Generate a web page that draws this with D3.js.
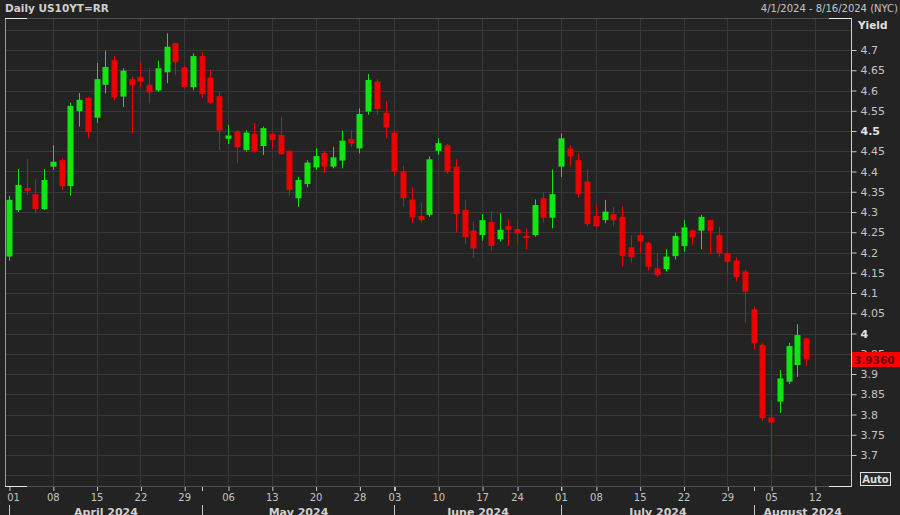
<!DOCTYPE html>
<html><head><meta charset="utf-8">
<script src="https://cdn.jsdelivr.net/npm/d3@7"></script>
<style>
body{margin:0;background:#232323;}
svg{display:block;font-family:"DejaVu Sans",sans-serif;}
</style>
</head><body>
<svg id="chart" width="900" height="515"></svg>
<script>
// ---------- DATA ----------
const dates = ["04-01","04-02","04-03","04-04","04-05","04-08","04-09","04-10","04-11","04-12",
"04-15","04-16","04-17","04-18","04-19","04-22","04-23","04-24","04-25","04-26",
"04-29","04-30","05-01","05-02","05-03","05-06","05-07","05-08","05-09","05-10",
"05-13","05-14","05-15","05-16","05-17","05-20","05-21","05-22","05-23","05-24",
"05-28","05-29","05-30","05-31","06-03","06-04","06-05","06-06","06-07","06-10",
"06-11","06-12","06-13","06-14","06-17","06-18","06-20","06-21","06-24","06-25",
"06-26","06-27","06-28","07-01","07-02","07-03","07-05","07-08","07-09","07-10",
"07-11","07-12","07-15","07-16","07-17","07-18","07-19","07-22","07-23","07-24",
"07-25","07-26","07-29","07-30","07-31","08-01","08-02","08-05","08-06","08-07",
"08-08","08-09"];
const futureDates = ["08-12","08-13","08-14","08-15","08-16"];

const openV = [4.190,4.305,4.359,4.344,4.307,4.412,4.428,4.364,4.549,4.582,
4.533,4.614,4.675,4.585,4.628,4.634,4.614,4.600,4.645,4.717,
4.657,4.608,4.685,4.632,4.586,4.481,4.498,4.453,4.493,4.463,
4.493,4.490,4.451,4.334,4.369,4.410,4.446,4.412,4.427,4.480,
4.457,4.548,4.622,4.545,4.496,4.400,4.331,4.290,4.293,4.451,
4.465,4.412,4.305,4.254,4.243,4.275,4.233,4.265,4.258,4.241,
4.243,4.334,4.286,4.412,4.457,4.428,4.375,4.290,4.280,4.295,
4.288,4.213,4.243,4.224,4.161,4.159,4.191,4.216,4.254,4.254,
4.280,4.243,4.198,4.180,4.153,4.060,3.972,3.793,3.832,3.881,
3.922,3.988];
const highV = [4.340,4.406,4.431,4.381,4.406,4.465,4.433,4.570,4.594,4.585,
4.668,4.698,4.685,4.655,4.634,4.671,4.655,4.674,4.741,4.718,
4.660,4.692,4.694,4.652,4.597,4.515,4.502,4.502,4.520,4.511,
4.496,4.535,4.453,4.387,4.428,4.457,4.451,4.461,4.501,4.502,
4.556,4.641,4.628,4.575,4.502,4.414,4.361,4.323,4.437,4.482,
4.468,4.430,4.330,4.276,4.295,4.303,4.297,4.282,4.279,4.260,
4.331,4.348,4.405,4.494,4.465,4.446,4.405,4.317,4.330,4.312,
4.315,4.243,4.251,4.227,4.198,4.208,4.249,4.280,4.257,4.293,
4.282,4.264,4.202,4.188,4.157,4.066,3.976,3.834,3.910,3.977,
4.023,3.991];
const lowV = [4.180,4.300,4.342,4.298,4.305,4.404,4.354,4.340,4.511,4.482,
4.520,4.593,4.575,4.559,4.494,4.609,4.568,4.597,4.618,4.638,
4.605,4.601,4.581,4.567,4.453,4.468,4.420,4.449,4.446,4.441,
4.457,4.441,4.340,4.313,4.361,4.404,4.396,4.408,4.408,4.461,
4.445,4.540,4.540,4.482,4.387,4.313,4.272,4.274,4.288,4.441,
4.394,4.249,4.221,4.188,4.229,4.204,4.227,4.216,4.224,4.208,
4.239,4.274,4.260,4.386,4.412,4.336,4.265,4.263,4.272,4.264,
4.165,4.175,4.198,4.155,4.140,4.153,4.183,4.202,4.219,4.208,
4.196,4.190,4.150,4.128,4.027,3.961,3.785,3.663,3.804,3.875,
3.893,3.920];
const closeV = [4.330,4.367,4.352,4.307,4.379,4.424,4.364,4.562,4.577,4.498,
4.628,4.658,4.583,4.649,4.614,4.622,4.595,4.655,4.708,4.670,
4.609,4.685,4.591,4.570,4.501,4.489,4.460,4.496,4.449,4.507,
4.478,4.443,4.354,4.379,4.422,4.438,4.412,4.435,4.476,4.470,
4.542,4.626,4.554,4.509,4.400,4.334,4.287,4.280,4.430,4.470,
4.400,4.295,4.238,4.210,4.280,4.216,4.256,4.256,4.247,4.238,
4.317,4.286,4.344,4.482,4.437,4.344,4.270,4.265,4.301,4.279,
4.191,4.188,4.227,4.165,4.144,4.190,4.241,4.262,4.238,4.288,
4.254,4.198,4.177,4.139,4.103,3.976,3.791,3.780,3.889,3.969,
3.996,3.936];

const yTickValues = [3.7,3.75,3.8,3.85,3.9,3.95,4,4.05,4.1,4.15,4.2,4.25,4.3,4.35,4.4,4.45,4.5,4.55,4.6,4.65,4.7];
const yTickLabels = ["3.7","3.75","3.8","3.85","3.9","3.95","4","4.05","4.1","4.15","4.2","4.25","4.3","4.35","4.4","4.45","4.5","4.55","4.6","4.65","4.7"];
const yBoldTicks = [4, 4.5];
const yGridExtra = [3.65, 4.75];

const weekTicks = ["04-01","04-08","04-15","04-22","04-29","05-06","05-13","05-20","05-28","06-03","06-10","06-17","06-24","07-01","07-08","07-15","07-22","07-29","08-05","08-12"];
const weekLabels = ["01","08","15","22","29","06","13","20","28","03","10","17","24","01","08","15","22","29","05","12"];
const monthStarts = ["04-01","05-01","06-03","07-01","08-01"];
const monthLabels = ["April 2024","May 2024","June 2024","July 2024","August 2024"];

const titleText = "Daily US10YT=RR";
const rangeText = "4/1/2024 - 8/16/2024 (NYC)";
const lastPrice = 3.936;

// ---------- LAYOUT ----------
const W = 900, H = 515;
const plot = {left: 5, top: 18, right: 851, bottom: 486};
const C = {bg:"#232323", grid:"#383838", text:"#c4c4c4", up:"#12e612", down:"#ee0000"};

const svg = d3.select("#chart");
svg.append("rect").attr("width", W).attr("height", H).attr("fill", C.bg);

const allDates = dates.concat(futureDates);
const x = d3.scalePoint().domain(allDates).range([9, 9 + 8.76 * (allDates.length - 1)]);
const y = d3.scaleLinear().domain([3.7, 4.7]).range([455, 50]);
const yFull = y.copy().domain([y.invert(plot.bottom), y.invert(plot.top)]).range([plot.bottom, plot.top]);

// grid
const g = svg.append("g");
const gridVals = yGridExtra.concat(yTickValues);
g.selectAll("line.h").data(gridVals).join("line")
  .attr("x1", plot.left).attr("x2", plot.right)
  .attr("y1", d => Math.round(y(d)) + 0.5).attr("y2", d => Math.round(y(d)) + 0.5)
  .attr("stroke", C.grid).attr("stroke-width", 1);
g.selectAll("line.v").data(weekTicks.slice(1)).join("line")
  .attr("x1", d => Math.round(x(d)) + 0.5).attr("x2", d => Math.round(x(d)) + 0.5)
  .attr("y1", plot.top).attr("y2", plot.bottom)
  .attr("stroke", C.grid).attr("stroke-width", 1);

// frame
const fr = svg.append("g").attr("fill", "none");
fr.append("line").attr("x1", plot.left).attr("x2", plot.right).attr("y1", plot.top + 0.5).attr("y2", plot.top + 0.5).attr("stroke", "#505050");
fr.append("line").attr("x1", plot.left).attr("x2", plot.right).attr("y1", plot.bottom + 0.5).attr("y2", plot.bottom + 0.5).attr("stroke", "#505050");
fr.append("line").attr("x1", plot.left + 0.5).attr("x2", plot.left + 0.5).attr("y1", plot.top).attr("y2", plot.bottom + 1).attr("stroke", "#9a9a9a");
const brk = 22;
[[plot.left, plot.top], [plot.left, plot.bottom], [plot.right - brk, plot.top], [plot.right - brk, plot.bottom]].forEach(([bx, by]) => {
  fr.append("line").attr("x1", bx).attr("x2", bx + brk).attr("y1", by + 0.5).attr("y2", by + 0.5).attr("stroke", "#e8e8e8");
});

// candles
const data = dates.map((d, i) => ({d, o: openV[i], h: highV[i], l: lowV[i], c: closeV[i]}));
const bw = 6;
const cg = svg.append("g");
const cand = cg.selectAll("g").data(data).join("g");
cand.append("line")
  .attr("x1", d => Math.round(x(d.d)) + 0.5).attr("x2", d => Math.round(x(d.d)) + 0.5)
  .attr("y1", d => y(d.h)).attr("y2", d => y(d.l))
  .attr("stroke", d => d.c >= d.o ? C.up : C.down).attr("stroke-width", 1);
cand.append("rect")
  .attr("x", d => Math.round(x(d.d)) - bw / 2 + 0.5)
  .attr("width", bw)
  .attr("y", d => Math.min(y(d.o), y(d.c)))
  .attr("height", d => Math.max(2, Math.abs(y(d.o) - y(d.c))))
  .attr("fill", d => d.c >= d.o ? C.up : C.down);

// y axis
const yAxis = d3.axisRight(yFull).tickValues(yTickValues).tickSize(5).tickPadding(4)
  .tickFormat((d, i) => yTickLabels[i]);
const ya = svg.append("g").attr("transform", `translate(${plot.right + 0.5},0)`).call(yAxis);
ya.select(".domain").attr("stroke", "#d0d0d0").attr("d", `M0,${plot.top}V${plot.bottom + 1}`);
ya.selectAll(".tick line").attr("stroke", "#c8c8c8");
ya.selectAll(".tick text").attr("font-size", 11)
  .attr("font-family", "DejaVu Sans")
  .attr("font-weight", d => yBoldTicks.includes(d) ? "bold" : "normal")
  .attr("fill", d => yBoldTicks.includes(d) ? "#e4e4e4" : C.text);

svg.append("text").attr("x", 858).attr("y", 29).text("Yield")
  .attr("fill", "#e0e0e0").attr("font-size", 10.5).attr("font-weight", "bold");

// last price label
svg.append("rect").attr("x", 852).attr("y", Math.round(y(lastPrice)) - 7).attr("width", 48).attr("height", 15).attr("fill", "#ff0000");
svg.append("text").attr("x", 854).attr("y", Math.round(y(lastPrice)) + 4.5).text(lastPrice.toFixed(4))
  .attr("fill", "#6a0000").attr("font-size", 10.5).attr("font-weight", "bold");

// Auto button
svg.append("rect").attr("x", 860.5).attr("y", 472.5).attr("width", 30).attr("height", 13)
  .attr("fill", "#2a2a2a").attr("stroke", "#e0e0e0");
svg.append("text").attr("x", 875.5).attr("y", 483).attr("text-anchor", "middle").text("Auto")
  .attr("fill", "#dcdcdc").attr("font-size", 10).attr("font-weight", "bold");

// x axis
const xAxis = d3.axisBottom(x).tickValues(weekTicks).tickSize(4).tickPadding(3)
  .tickFormat((d, i) => weekLabels[i]);
const xa = svg.append("g").attr("transform", `translate(0,${plot.bottom + 1})`).call(xAxis);
xa.select(".domain").remove();
xa.selectAll(".tick line").attr("stroke", "#c8c8c8").attr("transform", "translate(0.5,0)");
xa.selectAll(".tick text").attr("fill", C.text).attr("font-size", 10).attr("font-family", "DejaVu Sans")
  .attr("dx", (d, i) => i === 0 ? 4 : 0);

// month separators and labels
const monthEdges = monthStarts.map(d => Math.round(x(d)) + 0.5);
const mg = svg.append("g");
mg.selectAll("line.mt").data(monthStarts.slice(1)).join("line")
  .attr("x1", d => Math.round(x(d)) + 0.5).attr("x2", d => Math.round(x(d)) + 0.5)
  .attr("y1", plot.bottom + 1).attr("y2", plot.bottom + 5).attr("stroke", "#c8c8c8");
mg.selectAll("line.ms").data(monthEdges).join("line")
  .attr("x1", d => d).attr("x2", d => d)
  .attr("y1", 505).attr("y2", 515).attr("stroke", "#c8c8c8");
mg.selectAll("text").data(monthLabels).join("text")
  .attr("x", (d, i) => ((monthEdges[i]) + (i + 1 < monthEdges.length ? monthEdges[i + 1] : plot.right)) / 2)
  .attr("y", 515.5).attr("text-anchor", "middle").text(d => d)
  .attr("fill", "#d0d0d0").attr("font-size", 11).attr("font-weight", "bold");

// header
svg.append("text").attr("x", 5).attr("y", 12).text(titleText)
  .attr("fill", "#cfcfcf").attr("font-size", 10.5).attr("font-weight", "bold");
svg.append("text").attr("x", 898).attr("y", 12).attr("text-anchor", "end").text(rangeText)
  .attr("fill", "#c4c4c4").attr("font-size", 10);
</script>
</body></html>
